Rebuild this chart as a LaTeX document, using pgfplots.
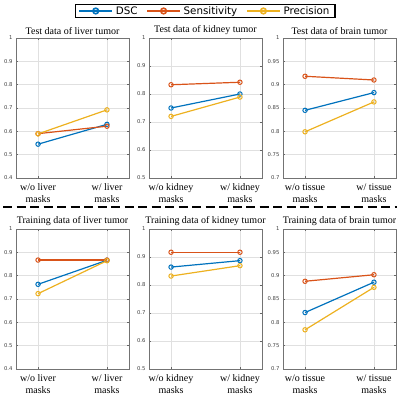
\documentclass[border=0pt]{standalone}
\usepackage{fontspec}
\setmainfont{Liberation Serif}
\newfontfamily\djv{DejaVu Sans}
\usepackage{pgfplots}
\pgfplotsset{compat=1.18}
\definecolor{cdsc}{HTML}{0072BD}
\definecolor{csens}{HTML}{D95319}
\definecolor{cprec}{HTML}{EDB120}
\pgfplotsset{
  panel/.style={
    scale only axis, anchor=south west,
    width=113pt, height=140pt,
    xmin=0.68, xmax=2.32, xtick={1,2},
    grid=major, grid style={black!12, line width=0.4pt},
    axis line style={black!55, line width=0.6pt},
    tick align=inside, tick pos=both, major tick length=2pt,
    tick style={black!60, line width=0.5pt},
    /pgf/number format/assume math mode=true,
    yticklabel style={font=\djv\fontsize{5.3}{6}\selectfont, text=black!75},
    xticklabel style={font=\fontsize{10}{12}\selectfont, align=center, yshift=-2pt},
    title style={font=\fontsize{10}{12}\selectfont, yshift=-6pt},
  },
  dsc/.style={color=cdsc, line width=1.2pt, mark=o, mark size=2.2pt, mark options={line width=1pt}},
  sens/.style={color=csens, line width=1.2pt, mark=o, mark size=2.2pt, mark options={line width=1pt}},
  prec/.style={color=cprec, line width=1.2pt, mark=o, mark size=2.2pt, mark options={line width=1pt}},
}
\begin{document}
\begin{tikzpicture}
\useasboundingbox (0pt,0pt) rectangle (399pt,399pt);

% ---- test row ----
\begin{axis}[panel, at={(16pt,221pt)}, ymin=0.4, ymax=1, ytick={0.4,0.5,...,1},
  title={Test data of liver tumor},
  xticklabels={{w/o liver\\masks},{w/ liver\\masks}},
  legend columns=3,
  legend cell align=left,
  legend style={at={(1.673,1.193)}, anchor=center, draw=black, line width=1.1pt,
    fill=white, font=\djv\fontsize{10.3}{11}\selectfont, inner xsep=3pt, inner ysep=0pt,
    nodes={inner xsep=2.5pt, inner ysep=1.5pt},
    /tikz/every even column/.append style={column sep=6pt}},
  legend image code/.code={\draw[mark repeat=2, mark phase=2, #1, line width=2.2pt, mark size=2.8pt, mark options={line width=1.6pt}] plot coordinates {(0pt,0pt) (16.5pt,0pt) (33pt,0pt)};}]
\addplot[dsc] coordinates {(1,0.545) (2,0.630)};
\addlegendentry{DSC}
\addplot[sens] coordinates {(1,0.590) (2,0.622)};
\addlegendentry{Sensitivity}
\addplot[prec] coordinates {(1,0.589) (2,0.692)};
\addlegendentry{Precision}
\end{axis}

\begin{axis}[panel, at={(149pt,221pt)}, ymin=0.5, ymax=1, ytick={0.5,0.6,...,1},
  title={Test data of kidney tumor},
  xticklabels={{w/o kidney\\masks},{w/ kidney\\masks}}]
\addplot[dsc] coordinates {(1,0.750) (2,0.800)};
\addplot[sens] coordinates {(1,0.833) (2,0.842)};
\addplot[prec] coordinates {(1,0.720) (2,0.789)};
\end{axis}

\begin{axis}[panel, at={(283pt,221pt)}, ymin=0.7, ymax=1, ytick={0.7,0.75,...,1.01},
  title={Test data of brain tumor},
  xticklabels={{w/o tissue\\masks},{w/ tissue\\masks}}]
\addplot[dsc] coordinates {(1,0.845) (2,0.883)};
\addplot[sens] coordinates {(1,0.918) (2,0.910)};
\addplot[prec] coordinates {(1,0.799) (2,0.863)};
\end{axis}

% separator
\draw[black, line width=1.8pt, dash pattern=on 9pt off 4.5pt] (3pt,192pt) -- (397pt,192pt);

% ---- training row ----
\begin{axis}[panel, at={(16pt,30pt)}, ymin=0.4, ymax=1, ytick={0.4,0.5,...,1},
  title={Training data of liver tumor},
  xticklabels={{w/o liver\\masks},{w/ liver\\masks}}]
\addplot[dsc] coordinates {(1,0.763) (2,0.866)};
\addplot[sens] coordinates {(1,0.867) (2,0.867)};
\addplot[prec] coordinates {(1,0.723) (2,0.864)};
\end{axis}

\begin{axis}[panel, at={(149pt,30pt)}, ymin=0.5, ymax=1, ytick={0.5,0.6,...,1},
  title={Training data of kidney tumor},
  xticklabels={{w/o kidney\\masks},{w/ kidney\\masks}}]
\addplot[dsc] coordinates {(1,0.864) (2,0.887)};
\addplot[sens] coordinates {(1,0.917) (2,0.917)};
\addplot[prec] coordinates {(1,0.832) (2,0.869)};
\end{axis}

\begin{axis}[panel, at={(283pt,30pt)}, ymin=0.7, ymax=1, ytick={0.7,0.75,...,1.01},
  title={Training data of brain tumor},
  xticklabels={{w/o tissue\\masks},{w/ tissue\\masks}}]
\addplot[dsc] coordinates {(1,0.821) (2,0.886)};
\addplot[sens] coordinates {(1,0.888) (2,0.902)};
\addplot[prec] coordinates {(1,0.784) (2,0.875)};
\end{axis}
\end{tikzpicture}
\end{document}
